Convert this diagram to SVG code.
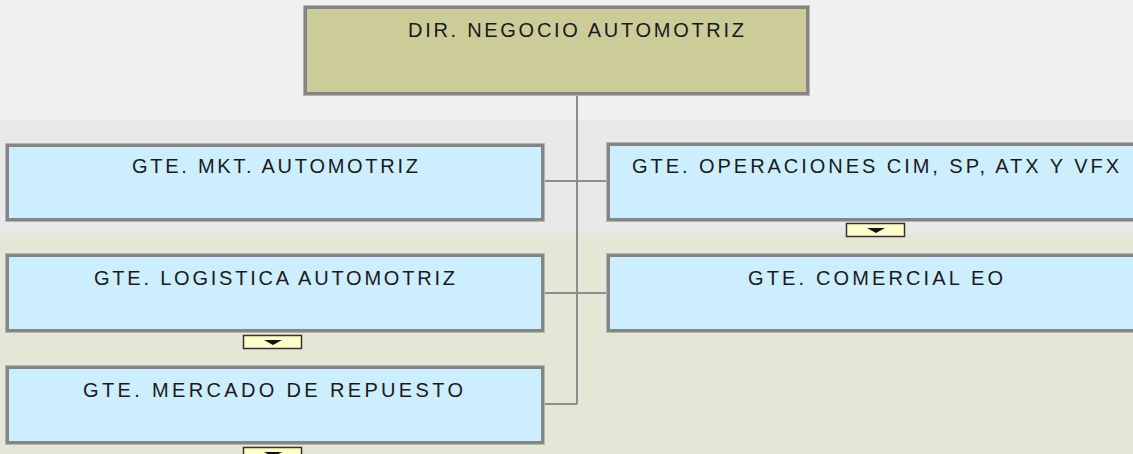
<svg xmlns="http://www.w3.org/2000/svg" width="1133" height="454" viewBox="0 0 1133 454">
<style>
.outer{fill:none;stroke:#b4b4b4;stroke-width:1}
.box{stroke:#858585;stroke-width:3}
.blue{fill:#cceeff}
.olive{fill:#cccc99}
.lbl{font-family:"Liberation Sans",Arial,sans-serif;font-size:20px;fill:#1a1a1a}
.conn{stroke:#8c8c8c;stroke-width:2;fill:none}
.tog{fill:#ffffcc;stroke:#333;stroke-width:1.5}
.tri{fill:#111}
</style>
<rect x="0" y="0" width="1133" height="120" fill="#f0f0f0"/>
<rect x="0" y="120" width="1133" height="113" fill="#e9e9e9"/>
<rect x="0" y="233" width="1133" height="221" fill="#e6e6d6"/>
<g id="connectors">
<path class="conn" d="M577 94V404M545 181H608M545 293H608M545 404H577"/>
</g>
<g id="n-dir">
<rect class="outer" x="303.5" y="5.5" width="506" height="90"/>
<rect class="box olive" x="305.5" y="7.5" width="502" height="86"/>
<text class="lbl" x="408" y="37" textLength="336" lengthAdjust="spacing">DIR. NEGOCIO AUTOMOTRIZ</text>
</g>
<g id="n-mkt">
<rect class="outer" x="5.5" y="143.5" width="539" height="78"/>
<rect class="box blue" x="7.5" y="145.5" width="535" height="74"/>
<text class="lbl" x="132" y="173" textLength="286" lengthAdjust="spacing">GTE. MKT. AUTOMOTRIZ</text>
</g>
<g id="n-ops">
<rect class="outer" x="606.5" y="142.5" width="540" height="79"/>
<rect class="box blue" x="608.5" y="144.5" width="540" height="75"/>
<text class="lbl" x="632" y="173" textLength="487" lengthAdjust="spacing">GTE. OPERACIONES CIM, SP, ATX Y VFX</text>
<rect class="tog" x="846.5" y="223.5" width="58" height="13"/>
<path class="tri" d="M867 228H885L876 233Z"/>
</g>
<g id="n-log">
<rect class="outer" x="5.5" y="253.5" width="539" height="79"/>
<rect class="box blue" x="7.5" y="255.5" width="535" height="75"/>
<text class="lbl" x="94" y="285" textLength="361" lengthAdjust="spacing">GTE. LOGISTICA AUTOMOTRIZ</text>
<rect class="tog" x="243.5" y="335.5" width="58" height="13"/>
<path class="tri" d="M264 340H282L273 345Z"/>
</g>
<g id="n-com">
<rect class="outer" x="606.5" y="253.5" width="540" height="79"/>
<rect class="box blue" x="608.5" y="255.5" width="540" height="75"/>
<text class="lbl" x="748" y="285" textLength="255" lengthAdjust="spacing">GTE. COMERCIAL EO</text>
</g>
<g id="n-mer">
<rect class="outer" x="5.5" y="365.5" width="539" height="79"/>
<rect class="box blue" x="7.5" y="367.5" width="535" height="75"/>
<text class="lbl" x="83" y="397" textLength="380" lengthAdjust="spacing">GTE. MERCADO DE REPUESTO</text>
<rect class="tog" x="243.5" y="447.5" width="58" height="13"/>
<path class="tri" d="M264 452H282L273 457Z"/>
</g>
</svg>
